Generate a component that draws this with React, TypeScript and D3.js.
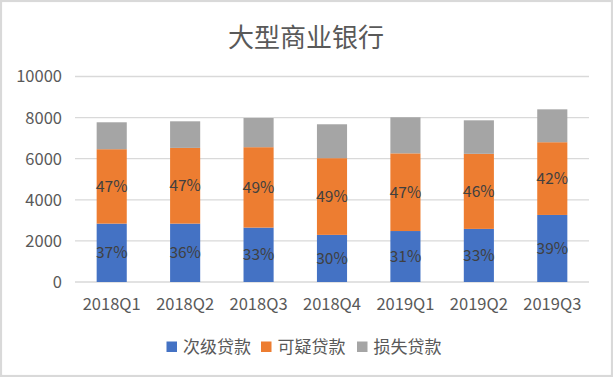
import React from "react";
import * as d3 from "d3";

const categories = ["2018Q1", "2018Q2", "2018Q3", "2018Q4", "2019Q1", "2019Q2", "2019Q3"];
const seriesNames = ["次级贷款", "可疑贷款", "损失贷款"];
const subLoans = [2841, 2841, 2647, 2293, 2480, 2584, 3263];
const doubtLoans = [3621, 3685, 3913, 3733, 3780, 3653, 3539];
const lossLoans = [1310, 1294, 1420, 1649, 1755, 1631, 1600];
const subLabels = ["37%", "36%", "33%", "30%", "31%", "33%", "39%"];
const doubtLabels = ["47%", "47%", "49%", "49%", "47%", "46%", "42%"];
const yTicks = [0, 2000, 4000, 6000, 8000, 10000];
const title = "大型商业银行";

const colors = ["#4472C4", "#ED7D31", "#A5A5A5"];
const W = 613;
const H = 377;
const FONT = "'Noto Sans CJK SC', 'Noto Sans', sans-serif";

export default function App() {
  const x = d3.scaleBand<string>().domain(categories).range([75, 589]).paddingInner(0.59).paddingOuter(0.295);
  const y = d3.scaleLinear().domain([0, 10000]).range([282, 76.5]);
  const series = [subLoans, doubtLoans, lossLoans];
  const labels = [subLabels, doubtLabels, null];

  const legendX = [166.5, 261, 357];

  return (
    <svg width={W} height={H} style={{ position: "absolute", left: 0, top: 0, fontFamily: FONT }}>
      <rect x={1} y={1} width={W - 2} height={H - 2} fill="#fff" stroke="#d9d9d9" strokeWidth={2.2} />
      <text x={306} y={47} textAnchor="middle" fontSize={26} fill="#595959">{title}</text>
      {yTicks.map((t) => (
        <g key={t}>
          <line x1={75} x2={589} y1={y(t)} y2={y(t)} stroke="#d9d9d9" strokeWidth={t === 0 ? 1.5 : 1.3} />
          <text x={62} y={y(t)} dy="0.36em" textAnchor="end" fontSize={16.5} fill="#595959">{t}</text>
        </g>
      ))}
      {categories.map((c, i) => {
        let base = 0;
        return (
          <g key={c}>
            {series.map((s, k) => {
              const y0 = base;
              const y1 = base + s[i];
              base = y1;
              const lab = labels[k];
              return (
                <g key={k}>
                  <rect x={x(c)} width={x.bandwidth()} y={y(y1)} height={y(y0) - y(y1)} fill={colors[k]} />
                  {lab && (
                    <text x={(x(c) as number) + x.bandwidth() / 2} y={(y(y0) + y(y1)) / 2} dy="0.36em" textAnchor="middle" fontSize={15.5} fill="#404040">
                      {lab[i]}
                    </text>
                  )}
                </g>
              );
            })}
            <text x={(x(c) as number) + x.bandwidth() / 2} y={310} textAnchor="middle" fontSize={16.5} fill="#595959">{c}</text>
          </g>
        );
      })}
      {seriesNames.map((n, k) => (
        <g key={n}>
          <rect x={legendX[k]} y={341.5} width={10.5} height={10.5} fill={colors[k]} />
          <text x={legendX[k] + 16.5} y={347} dy="0.36em" fontSize={17} fill="#595959">{n}</text>
        </g>
      ))}
    </svg>
  );
}
